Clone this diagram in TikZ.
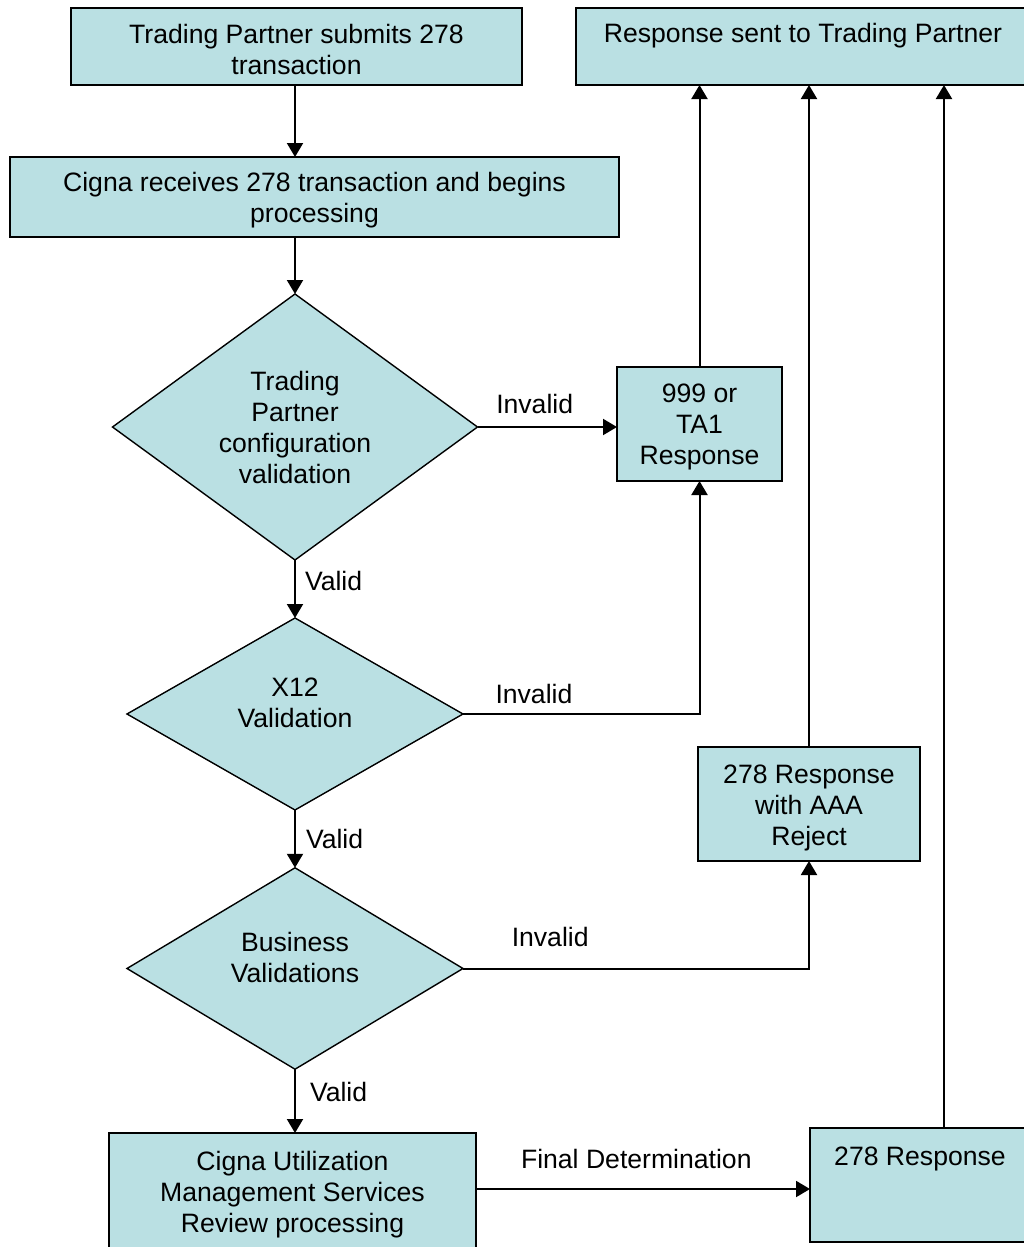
\documentclass[tikz,border=0pt]{standalone}
\usepackage{fontspec}
\setmainfont{Liberation Sans}
\usetikzlibrary{shapes.geometric,arrows.meta,calc}
\definecolor{boxfill}{RGB}{186,224,227}
\newcommand{\toprule}{\rule{0pt}{25.5pt}}
\begin{document}
\begin{tikzpicture}[x=1pt,y=-1pt,
  font=\fontsize{26.6}{31}\selectfont,
  box/.style={draw=black, line width=1.5pt, fill=boxfill, inner sep=0pt, outer sep=0pt, align=center, anchor=center},
  dec/.style={diamond, draw=black, line width=1.4pt, fill=boxfill, inner sep=0pt, outer sep=0pt, align=center, anchor=center},
  arr/.style={line width=2pt, -{Triangle[length=14pt,width=16pt]}},
  lbl/.style={inner sep=0pt, outer sep=0pt}]
\useasboundingbox (0,0) rectangle (1024,1247);

\node[box, minimum width=451pt, minimum height=77pt] (a) at (296.5,46.5) {\toprule Trading Partner submits 278\\transaction};
\node[box, minimum width=454pt, minimum height=77pt, text height=19pt, text depth=26pt] (r) at (803,46.5) {Response sent to Trading Partner};
\node[box, minimum width=609pt, minimum height=80pt] (b) at (314.5,197) {\toprule Cigna receives 278 transaction and begins\\processing};
\node[dec, minimum width=365pt, minimum height=266pt] (d1) at (295,427) {Trading\\Partner\\configuration\\validation};
\node[box, minimum width=165pt, minimum height=114pt] (e) at (699.5,424) {\toprule 999 or\\TA1\\Response};
\node[dec, minimum width=336pt, minimum height=192pt, text depth=23pt] (d2) at (295,714) {X12\\Validation};
\node[box, minimum width=222pt, minimum height=114pt] (f) at (809,804) {\toprule 278 Response\\with AAA\\Reject};
\node[dec, minimum width=336pt, minimum height=191pt, text depth=23pt] (d3) at (295,968.5) {Business\\Validations};
\node[box, minimum width=367pt, minimum height=116pt] (g) at (292.5,1191) {\toprule Cigna Utilization\\Management Services\\Review processing};
\node[box, minimum width=220pt, minimum height=114pt, text height=19pt, text depth=59pt] (h) at (920,1185) {278 Response};

\draw[arr] (a.south -| d1.north) -- (b.north -| d1.north);
\draw[arr] (b.south -| d1.north) -- (d1.north);
\draw[arr] (d1.east) -- node[lbl, pos=0.41, above=13pt] {Invalid} (d1.east -| e.west);
\draw[arr] (d1.south) -- node[lbl, right=10pt, yshift=8pt] {Valid} (d2.north);
\draw[arr] (d2.east) -| node[lbl, pos=0.15, above=10pt] {Invalid} (e.south);
\draw[arr] (d2.south) -- node[lbl, right=11pt] {Valid} (d3.north);
\draw[arr] (d3.east) -| node[lbl, pos=0.126, above=22pt] {Invalid} (f.south);
\draw[arr] (d3.south) -- node[lbl, right=15pt, yshift=9pt] {Valid} (d3.south |- g.north);
\draw[arr] ([yshift=2pt]g.east) -- node[lbl, pos=0.48, above=20pt] {Final Determination} ([yshift=2pt]g.east -| h.west);
\draw[arr] (e.north) -- (e.north |- r.south);
\draw[arr] (f.north) -- (f.north |- r.south);
\draw[arr] ([xshift=24pt]h.north) -- ([xshift=24pt]h.north |- r.south);
\end{tikzpicture}
\end{document}
